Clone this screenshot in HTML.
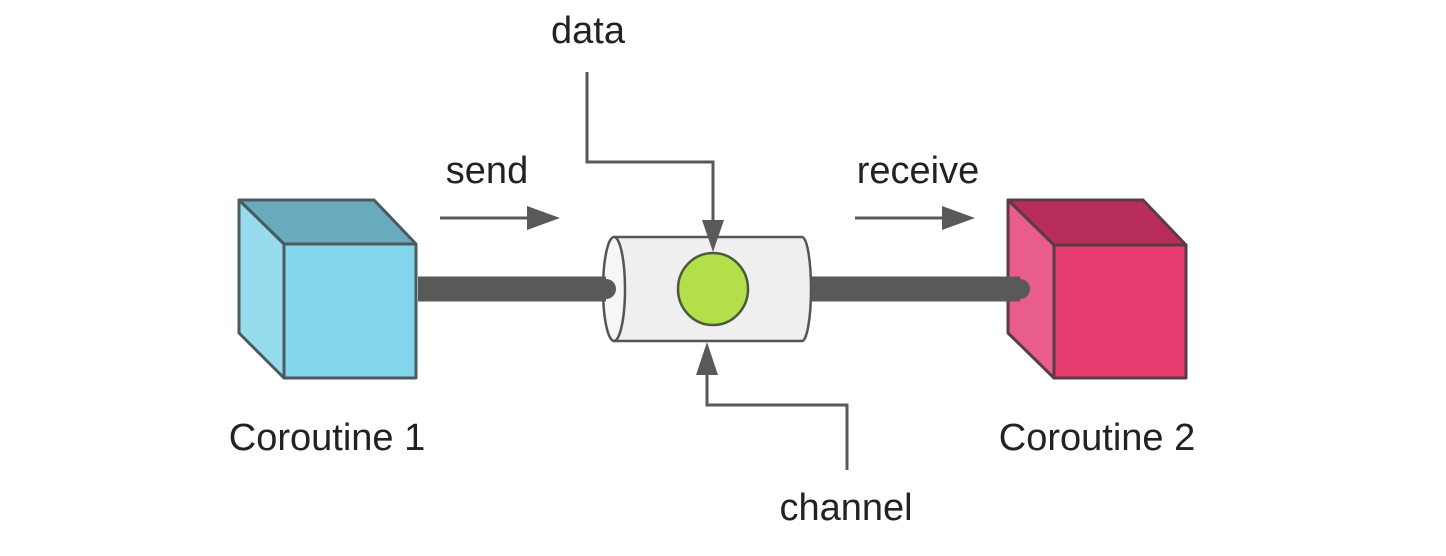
<!DOCTYPE html>
<html><head><style>body{margin:0;background:#fff}svg{display:block}</style></head><body>
<svg width="1446" height="556" viewBox="0 0 1446 556" xmlns="http://www.w3.org/2000/svg" font-family="Liberation Sans, Arial, sans-serif" fill="#222">
<!-- cube 1 -->
<g stroke="#4a5a60" stroke-width="3" stroke-linejoin="round">
<polygon points="239,200 374,200 416,244 284,244" fill="#69aabd"/>
<polygon points="239,200 284,244 284,378 239,333" fill="#96dced"/>
<rect x="284" y="244" width="132" height="134" fill="#82d5ea"/>
</g>
<!-- cube 2 -->
<g stroke="#5a3c46" stroke-width="3" stroke-linejoin="round">
<polygon points="1008,200 1143,200 1186,245 1054,245" fill="#b92d5a"/>
<polygon points="1008,200 1054,245 1054,378 1008,333" fill="#e85d8c"/>
<rect x="1054" y="245" width="132" height="133" fill="#e63c70"/>
</g>
<!-- bars -->
<line x1="418" y1="289" x2="608" y2="289" stroke="#595959" stroke-width="25" stroke-linecap="butt"/>
<line x1="811" y1="289" x2="1020" y2="289" stroke="#595959" stroke-width="25" stroke-linecap="butt"/>
<circle cx="1020" cy="289" r="10" fill="#595959"/>
<!-- cylinder -->
<g stroke="#555" stroke-width="2.5">
<path d="M614,237 L802,237 A9,52 0 0 1 802,341 L614,341" fill="#efefef"/>
<ellipse cx="614" cy="289" rx="11" ry="52" fill="#f6f6f6"/>
</g>
<line x1="590" y1="289" x2="606" y2="289" stroke="#595959" stroke-width="25"/>
<circle cx="606" cy="289" r="10" fill="#595959"/>
<ellipse cx="713" cy="289" rx="35" ry="36" fill="#b2df4a" stroke="#4a5a3a" stroke-width="2.5"/>
<!-- data arrow -->
<polyline points="587,72 587,162 713,162 713,225" fill="none" stroke="#595959" stroke-width="3"/>
<polygon points="702,220 724,220 713,252" fill="#595959"/>
<!-- channel arrow -->
<polyline points="847,470 847,405 707,405 707,372" fill="none" stroke="#595959" stroke-width="3"/>
<polygon points="696,375 718,375 707,342" fill="#595959"/>
<!-- send / receive arrows -->
<line x1="440" y1="218" x2="530" y2="218" stroke="#595959" stroke-width="3"/>
<polygon points="527,206 560,218 527,230" fill="#595959"/>
<line x1="855" y1="218" x2="945" y2="218" stroke="#595959" stroke-width="3"/>
<polygon points="942,206 975,218 942,230" fill="#595959"/>
<!-- text -->
<g font-size="38" text-anchor="middle">
<text x="588" y="43">data</text>
<text x="487" y="183">send</text>
<text x="918" y="183">receive</text>
<text x="327" y="450">Coroutine 1</text>
<text x="1097" y="450">Coroutine 2</text>
<text x="846" y="520">channel</text>
</g>
</svg>
</body></html>
